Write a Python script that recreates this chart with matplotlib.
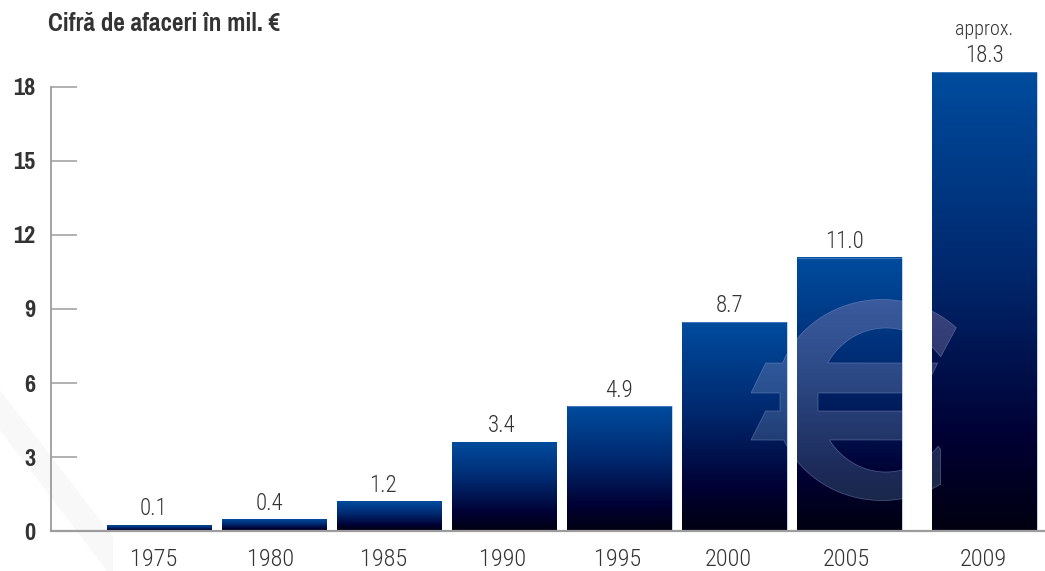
import numpy as np
import matplotlib
matplotlib.use("Agg")
import matplotlib.pyplot as plt
from matplotlib.colors import LinearSegmentedColormap
from matplotlib.path import Path
from matplotlib.patches import PathPatch, Polygon
from matplotlib.transforms import Affine2D

# ---- data ----
years = ["1975", "1980", "1985", "1990", "1995", "2000", "2005", "2009"]
labels = ["0.1", "0.4", "1.2", "3.4", "4.9", "8.7", "11.0", "18.3"]
heights = [0.24, 0.45, 1.2, 3.6, 5.05, 8.47, 11.07, 18.6]
slots = [0, 1, 2, 3, 4, 5, 6, 7.174]
year_shift = [-0.055, -0.03, -0.055, -0.02, -0.02, -0.05, -0.03, -0.01]
label_shift = [-0.055, -0.04, -0.055, -0.02, 0.0, -0.04, -0.04, 0.0]
yticks = [0, 3, 6, 9, 12, 15, 18]
title = "Cifră de afaceri în mil. €"
note = "approx."

W, H = 1045, 571
NARROW = ["Roboto Condensed", "Liberation Sans", "DejaVu Sans"]
BOLD = ["Pragati Narrow", "PT Sans Narrow", "Liberation Sans", "DejaVu Sans"]
plt.rcParams["font.family"] = NARROW
TEXT = "#333333"
GREY = "#9c9c9c"

fig = plt.figure(figsize=(W / 100, H / 100), dpi=100, facecolor="white")
ax = fig.add_axes([51 / W, (H - 531) / H, (W - 51) / W, 531 / H])
ax.patch.set_alpha(0)
xlim = ((51 - 159.5) / 115, (W - 159.5) / 115)
ylim = (0, 531 / (444 / 18))
bar_w = 104.5 / 115

pix = Affine2D().scale(1, -1).translate(0, H)  # reference pixels -> display

# faint background watermark
fig.patches.append(Polygon([(0, 390), (113, 537), (113, 571), (107, 571), (0, 430)],
                           closed=True, transform=pix, fc="#f8f8f8", ec="none", zorder=-5))

cmap = LinearSegmentedColormap.from_list(
    "bar", [(0, "#004c9e"), (0.42, "#00296f"), (0.8, "#000033"), (1, "#000010")])
grad = np.linspace(0, 1, 1024)[:, None]


def arc(cx, cy, a, b, t0, t1, n=80):
    t = np.radians(np.linspace(t0, t1, n))
    return np.column_stack([cx + a * np.cos(t), cy - b * np.sin(t)])


# Euro sign outline, in reference pixels (decoration, not data)
euro_xy = np.vstack([
    arc(882, 400, 107, 100.5, 46, 158.4),
    [(765.7, 363), (751, 393), (780, 393), (780, 411), (765.7, 411), (751, 440)],
    arc(882, 400, 107, 100.5, 203.5, 303),
    [(940.7, 485), (940.7, 449.3)],
    arc(886, 400, 68, 72, 320, 213.7),
    [(915, 440), (929, 411), (818, 411), (818, 393), (923, 393), (937.7, 363)],
    arc(886, 400, 68, 72, 149, 40),
    [(940.7, 356.7)],
])
euro_path = Path(np.vstack([euro_xy, euro_xy[0]]), closed=True)

rects = []
for s, h in zip(slots, heights):
    x0, x1 = s - bar_w / 2, s + bar_w / 2
    ax.imshow(grad, extent=(x0, x1, 0, h), cmap=cmap, vmin=0, vmax=1, aspect="auto",
              zorder=2, interpolation="nearest", origin="upper")
    rects.append(Path.unit_rectangle().transformed(Affine2D().scale(x1 - x0, h).translate(x0, 0)))
    if h > 5:
        ax.plot([x0, x1, x1], [h, h, 0], color="#7fa4d8", lw=0.5, alpha=0.7, zorder=2.5,
                clip_on=False, solid_capstyle="butt")
        # euro overlay: colour and alpha vary with the screen row
        top_px = 531 - h * 444 / 18
        rows = np.linspace(top_px, 531, 1024)
        img = np.ones((1024, 1, 4))
        img[:, 0, 0] = np.interp(rows, [300, 500], [0.90, 0.50])
        img[:, 0, 1] = np.interp(rows, [300, 500], [0.67, 0.80])
        img[:, 0, 2] = np.interp(rows, [300, 500], [0.81, 0.90])
        img[:, 0, 3] = np.interp(rows, [300, 500], [0.26, 0.20])
        im = ax.imshow(img, extent=(x0, x1, 0, h), aspect="auto", zorder=3, origin="upper",
                       interpolation="nearest")
        im.set_clip_path(euro_path, pix)

clip = Path.make_compound_path(*rects)
edge = PathPatch(euro_path, fc="none", ec="#8f9fd0", lw=0.5, alpha=0.5, transform=pix, zorder=3.2)
ax.add_patch(edge)
edge.set_clip_path(clip, ax.transData)

for s, sh, lab, h in zip(slots, label_shift, labels, heights):
    ax.annotate(lab, (s + sh, h), xytext=(0, 7), textcoords="offset points",
                ha="center", va="baseline", fontsize=16.5, color=TEXT, annotation_clip=False,
                fontweight="light")
ax.annotate(note, (slots[-1], heights[-1]), xytext=(0, 26.5), textcoords="offset points",
            ha="center", va="baseline", fontsize=14.5, color=TEXT, annotation_clip=False,
            fontweight="light")

ax.set_xlim(xlim)
ax.set_ylim(ylim)
ax.set_xticks(slots)
ax.set_xticklabels([])
ax.tick_params(axis="x", length=0)
for s, sh, y in zip(slots, year_shift, years):
    ax.annotate(y, (s + sh, 0), xytext=(0, -25.5), textcoords="offset points",
                ha="center", va="baseline", fontsize=17.5, color=TEXT, annotation_clip=False,
                fontweight="light")

ax.set_yticks(yticks)
ax.set_yticklabels([str(v) for v in yticks], fontsize=19, fontweight="bold", color=TEXT,
                   family=BOLD)
ax.tick_params(axis="y", direction="in", length=19, width=1.1, color=GREY, pad=11)

for side in ("top", "right"):
    ax.spines[side].set_visible(False)
ax.spines["left"].set_color(GREY)
ax.spines["left"].set_linewidth(1.3)
ax.spines["left"].set_bounds(0, 18)
ax.spines["bottom"].set_color(GREY)
ax.spines["bottom"].set_linewidth(1.6)
ax.spines["bottom"].set_zorder(4)

fig.text(48 / W, 1 - 31 / H, title, fontsize=19.7, fontweight="bold", color=TEXT,
         ha="left", va="baseline", family=BOLD)

fig.savefig("out.png", dpi=100, facecolor="white")
